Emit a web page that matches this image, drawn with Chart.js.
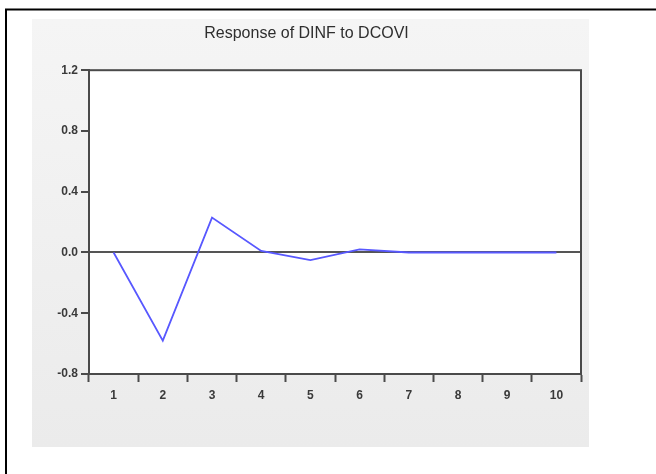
<!DOCTYPE html>
<html>
<head>
<meta charset="utf-8">
<title>Response of DINF to DCOVI</title>
<script src="https://cdn.jsdelivr.net/npm/chart.js@4/dist/chart.umd.min.js"></script>
<style>
  html, body { margin: 0; padding: 0; background: #ffffff; }
  #wrap { width: 656px; height: 474px; }
</style>
</head>
<body>
<div id="wrap"><canvas id="irf" width="656" height="474"></canvas></div>
<script>
// Impulse response periods and values
const periods = ['1', '2', '3', '4', '5', '6', '7', '8', '9', '10'];
const response = [0.0, -0.58, 0.23, 0.01, -0.05, 0.02, 0.0, 0.0, 0.0, 0.0];
const yTicks = [-0.8, -0.4, 0.0, 0.4, 0.8, 1.2];
const chartTitle = 'Response of DINF to DCOVI';

const FONT = "'Liberation Sans', Arial, sans-serif";

// Page frame, grey panel and white plot background
const backdrop = {
  id: 'backdrop',
  beforeDraw(chart) {
    const ctx = chart.ctx;
    const a = chart.chartArea;
    ctx.save();
    const g = ctx.createLinearGradient(0, 19, 0, 447);
    g.addColorStop(0, '#f5f5f5');
    g.addColorStop(1, '#ebebeb');
    ctx.fillStyle = g;
    ctx.fillRect(32, 19, 557, 428);
    ctx.fillStyle = '#ffffff';
    ctx.fillRect(a.left, a.top, a.right - a.left, a.bottom - a.top);
    ctx.strokeStyle = '#000000';
    ctx.lineWidth = 2;
    ctx.beginPath();
    ctx.moveTo(6, 474);
    ctx.lineTo(6, 9.5);
    ctx.lineTo(656, 9.5);
    ctx.stroke();
    ctx.restore();
  },
  afterDatasetsDraw(chart) {
    const ctx = chart.ctx;
    const a = chart.chartArea;
    ctx.save();
    ctx.strokeStyle = '#4a4a4a';
    ctx.lineWidth = 2;
    ctx.strokeRect(a.left, a.top, a.right - a.left, a.bottom - a.top);
    ctx.restore();
  }
};

new Chart(document.getElementById('irf'), {
  type: 'line',
  data: {
    labels: periods,
    datasets: [{
      data: response,
      borderColor: 'rgb(88,88,255)',
      borderWidth: 1.8,
      pointRadius: 0,
      tension: 0,
      fill: false
    }]
  },
  options: {
    responsive: false,
    animation: false,
    devicePixelRatio: 1,
    layout: { padding: { left: 32, right: 75, top: 19, bottom: 27 } },
    plugins: {
      legend: { display: false },
      tooltip: { enabled: false },
      title: {
        display: true,
        text: chartTitle,
        color: '#2e2e2e',
        font: { family: FONT, size: 16, weight: 'normal' },
        padding: { top: 5, bottom: 27 }
      }
    },
    scales: {
      x: {
        type: 'category',
        offset: true,
        afterFit(s) { s.height = 73; },
        grid: {
          offset: true,
          drawOnChartArea: false,
          drawTicks: true,
          tickLength: 8,
          tickColor: '#4a4a4a',
          tickWidth: 2
        },
        border: { display: true, color: '#4a4a4a', width: 2 },
        ticks: {
          color: '#3a3a3a',
          font: { family: FONT, size: 12, weight: 'bold' },
          padding: 6,
          maxRotation: 0,
          autoSkip: false
        }
      },
      y: {
        min: -0.8,
        max: 1.2,
        afterFit(s) { s.width = 57; },
        afterBuildTicks(s) { s.ticks = yTicks.map(v => ({ value: v })); },
        grid: {
          drawOnChartArea: true,
          drawTicks: true,
          tickLength: 8,
          tickColor: '#4a4a4a',
          tickWidth: 2,
          color: (c) => (c.tick && c.tick.value === 0 ? '#555555' : 'rgba(0,0,0,0)'),
          lineWidth: (c) => (c.tick && c.tick.value === 0 ? 2 : 0)
        },
        border: { display: true, color: '#4a4a4a', width: 2 },
        ticks: {
          color: '#3a3a3a',
          font: { family: FONT, size: 12, weight: 'bold' },
          padding: 3,
          callback: (v) => Number(v).toFixed(1)
        }
      }
    }
  },
  plugins: [backdrop]
});
</script>
</body>
</html>
